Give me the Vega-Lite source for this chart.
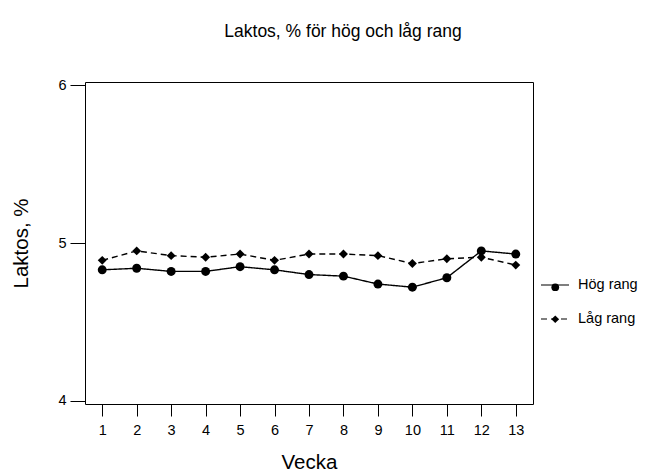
{
  "$schema": "https://vega.github.io/schema/vega-lite/v6.json",
  "width": 448,
  "height": 322,
  "autosize": {"type": "none"},
  "padding": {"left": 85, "top": 82, "right": 120, "bottom": 68},
  "background": "white",
  "title": {"text": "Laktos, % för hög och låg rang", "anchor": "middle", "offset": 37, "dx": 34, "fontSize": 17.5, "fontWeight": "normal", "font": "Liberation Sans", "color": "black"},
  "data": {
    "values": [
      {"Vecka": 1, "Laktos": 4.83, "Rang": "Hög rang"},
      {"Vecka": 2, "Laktos": 4.84, "Rang": "Hög rang"},
      {"Vecka": 3, "Laktos": 4.82, "Rang": "Hög rang"},
      {"Vecka": 4, "Laktos": 4.82, "Rang": "Hög rang"},
      {"Vecka": 5, "Laktos": 4.85, "Rang": "Hög rang"},
      {"Vecka": 6, "Laktos": 4.83, "Rang": "Hög rang"},
      {"Vecka": 7, "Laktos": 4.80, "Rang": "Hög rang"},
      {"Vecka": 8, "Laktos": 4.79, "Rang": "Hög rang"},
      {"Vecka": 9, "Laktos": 4.74, "Rang": "Hög rang"},
      {"Vecka": 10, "Laktos": 4.72, "Rang": "Hög rang"},
      {"Vecka": 11, "Laktos": 4.78, "Rang": "Hög rang"},
      {"Vecka": 12, "Laktos": 4.95, "Rang": "Hög rang"},
      {"Vecka": 13, "Laktos": 4.93, "Rang": "Hög rang"},
      {"Vecka": 1, "Laktos": 4.89, "Rang": "Låg rang"},
      {"Vecka": 2, "Laktos": 4.95, "Rang": "Låg rang"},
      {"Vecka": 3, "Laktos": 4.92, "Rang": "Låg rang"},
      {"Vecka": 4, "Laktos": 4.91, "Rang": "Låg rang"},
      {"Vecka": 5, "Laktos": 4.93, "Rang": "Låg rang"},
      {"Vecka": 6, "Laktos": 4.89, "Rang": "Låg rang"},
      {"Vecka": 7, "Laktos": 4.93, "Rang": "Låg rang"},
      {"Vecka": 8, "Laktos": 4.93, "Rang": "Låg rang"},
      {"Vecka": 9, "Laktos": 4.92, "Rang": "Låg rang"},
      {"Vecka": 10, "Laktos": 4.87, "Rang": "Låg rang"},
      {"Vecka": 11, "Laktos": 4.90, "Rang": "Låg rang"},
      {"Vecka": 12, "Laktos": 4.91, "Rang": "Låg rang"},
      {"Vecka": 13, "Laktos": 4.86, "Rang": "Låg rang"}
    ]
  },
  "encoding": {
    "x": {
      "field": "Vecka",
      "type": "quantitative",
      "scale": {"domain": [0.5, 13.5], "nice": false, "zero": false},
      "axis": {"values": [1,2,3,4,5,6,7,8,9,10,11,12,13], "tickCount": 13, "format": "~g", "title": "Vecka", "grid": false, "domain": false, "tickSize": 12, "labelPadding": 7, "titlePadding": 16}
    },
    "y": {
      "field": "Laktos",
      "type": "quantitative",
      "scale": {"domain": [3.98, 6.02], "nice": false, "zero": false},
      "axis": {"values": [4, 5, 6], "tickCount": 3, "format": "~g", "title": "Laktos, %", "grid": false, "domain": false, "tickSize": 15, "labelPadding": 4, "titlePadding": 26}
    }
  },
  "layer": [
    {
      "mark": {"type": "line", "color": "black", "strokeWidth": 1.4},
      "encoding": {
        "strokeDash": {
          "field": "Rang",
          "type": "nominal",
          "scale": {"domain": ["Hög rang", "Låg rang"], "range": [[1, 0], [6, 4]]},
          "legend": {"title": null, "orient": "none", "legendX": 455, "legendY": 188, "symbolType": "stroke", "symbolSize": 784, "symbolStrokeColor": "black", "symbolStrokeWidth": 1.2, "rowPadding": 12, "labelOffset": 8, "labelFontSize": 14.5}
        }
      }
    },
    {
      "mark": {"type": "point", "filled": true, "color": "black", "opacity": 1, "size": 80},
      "encoding": {
        "shape": {
          "field": "Rang",
          "type": "nominal",
          "scale": {"domain": ["Hög rang", "Låg rang"], "range": ["circle", "diamond"]},
          "legend": {"title": null, "orient": "none", "legendX": 463, "legendY": 198, "symbolSize": 60, "symbolFillColor": "black", "symbolStrokeColor": "black", "labelExpr": "''", "rowPadding": 16}
        }
      }
    }
  ],
  "resolve": {"legend": {"shape": "independent", "strokeDash": "independent"}},
  "config": {
    "font": "Liberation Sans",
    "view": {"stroke": "black", "strokeWidth": 1},
    "axis": {"labelFont": "Liberation Sans", "titleFont": "Liberation Sans", "labelFontSize": 14.5, "titleFontSize": 20.5, "titleFontWeight": "normal", "labelColor": "black", "titleColor": "black", "tickColor": "black", "tickWidth": 1},
    "legend": {"labelFont": "Liberation Sans", "labelFontSize": 14.5, "labelColor": "black"}
  }
}
